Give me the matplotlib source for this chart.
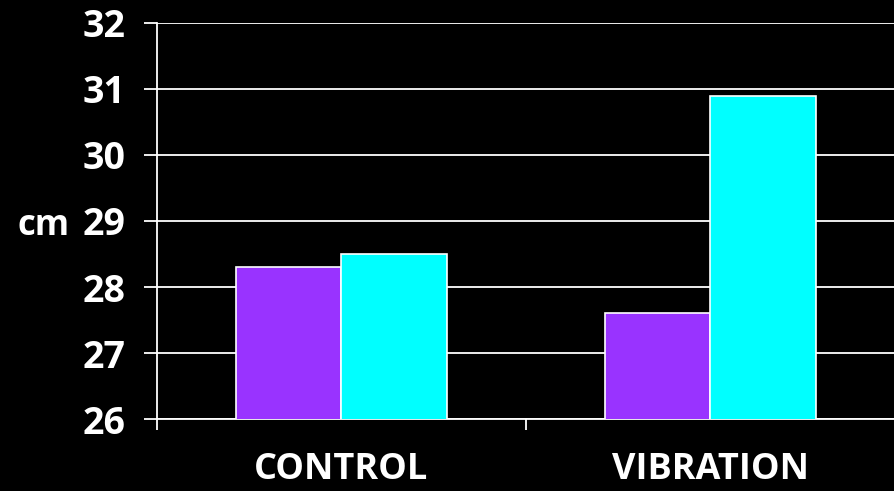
import matplotlib
matplotlib.use('Agg')
import matplotlib.pyplot as plt
import numpy as np

# chart data
groups = ['CONTROL', 'VIBRATION']
series_a = [28.3, 27.6]   # purple bars
series_b = [28.5, 30.9]   # cyan bars
y_ticks = [26, 27, 28, 29, 30, 31, 32]

plt.rcParams['font.family'] = ['Open Sans', 'DejaVu Sans']

fig = plt.figure(figsize=(8.95, 4.91), dpi=100, facecolor='black')
ax = fig.add_axes([0.1754, 0.1466, 0.8246, 0.8066])
ax.set_facecolor('black')

x = np.arange(len(groups))
w = 0.286
ax.bar(x - w / 2, series_a, w, color='#9933FF',
       edgecolor='white', linewidth=1.2, zorder=3)
ax.bar(x + w / 2, series_b, w, color='#00FFFF',
       edgecolor='white', linewidth=1.2, zorder=3)

ax.set_ylim(26, 32)
ax.set_xlim(-0.5, 1.5)
ax.set_yticks(y_ticks)
ax.set_yticklabels([str(t) for t in y_ticks], fontsize=27, fontweight='bold',
                   color='white')
ax.yaxis.grid(True, color='white', linewidth=1.3, zorder=0)
ax.set_axisbelow(True)

# category boundaries as major ticks, names on minor ticks
ax.set_xticks([-0.5, 0.5, 1.5])
ax.set_xticklabels([])
ax.set_xticks(x, minor=True)
ax.set_xticklabels(groups, minor=True, fontsize=26, fontweight='bold',
                   color='white')
ax.tick_params(axis='x', which='major', direction='out', length=8,
               width=1.3, color='white')
ax.tick_params(axis='x', which='minor', length=0, pad=24)
ax.tick_params(axis='y', direction='out', length=9.5, width=1.3,
               color='white', pad=13)

for side in ['top', 'right']:
    ax.spines[side].set_visible(False)
for side in ['left', 'bottom']:
    ax.spines[side].set_color('white')
    ax.spines[side].set_linewidth(1.3)

ax.set_ylabel('cm', rotation=0, fontsize=25, fontweight='bold',
              color='white', ha='right', va='center')
ax.yaxis.set_label_coords(-0.118, 0.488)

fig.savefig('out.png', dpi=100, facecolor='black')
